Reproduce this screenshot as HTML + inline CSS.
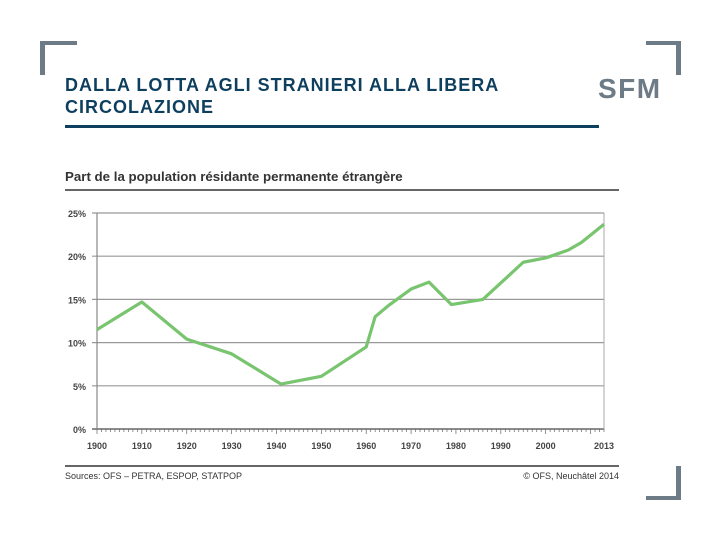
<!DOCTYPE html>
<html><head><meta charset="utf-8"><style>
body{margin:0;width:720px;height:540px;background:#fff;position:relative;overflow:hidden;font-family:"Liberation Sans",sans-serif}
.c{position:absolute;border-color:#6d7b86;border-style:solid;border-width:0}
</style></head><body>
<div class="c" style="left:40px;top:41px;width:32px;height:30px;border-left-width:5px;border-top-width:4px"></div>
<div class="c" style="left:646px;top:41px;width:30px;height:30px;border-right-width:5px;border-top-width:4px"></div>
<div class="c" style="left:646px;top:466px;width:30px;height:30px;border-right-width:5px;border-bottom-width:4px"></div>
<div style="position:absolute;left:65px;top:74px;font-size:18px;font-weight:bold;line-height:22px;color:#0f3f5e;letter-spacing:1px">DALLA LOTTA AGLI STRANIERI ALLA LIBERA<br>CIRCOLAZIONE</div>
<div style="position:absolute;left:65px;top:125px;width:534px;height:3px;background:#0f3f5e"></div>
<div style="position:absolute;left:598px;top:73px;font-size:28px;font-weight:bold;color:#6d7b86;letter-spacing:1.5px">SFM</div>
<svg width="720" height="540" style="position:absolute;left:0;top:0">
<text x="65" y="181" font-size="13.3" font-weight="bold" fill="#333">Part de la population résidante permanente étrangère</text>
<line x1="65" y1="190" x2="619" y2="190" stroke="#333" stroke-width="1.5"/>
<line x1="65" y1="466" x2="619" y2="466" stroke="#333" stroke-width="1.5"/>
<text x="65" y="479" font-size="9" fill="#333">Sources: OFS – PETRA, ESPOP, STATPOP</text>
<text x="619" y="479" font-size="9" fill="#333" text-anchor="end">© OFS, Neuchâtel 2014</text>
<g id="g"></g>
</svg>
<script>
const years=[1900,1910,1920,1930,1941,1950,1960,1962,1965,1970,1974,1979,1986,1990,1995,2000,2005,2008,2013];
const values=[11.5,14.7,10.4,8.7,5.2,6.1,9.5,13,14.3,16.2,17.0,14.4,15,16.9,19.3,19.8,20.7,21.6,23.7];
const yTicks=[0,5,10,15,20,25];
const xTicks=[1900,1910,1920,1930,1940,1950,1960,1970,1980,1990,2000,2013];
const X=y=>97+(y-1900)*(604-97)/113, Y=v=>429-v*(429-213)/25;
const g=document.getElementById('g'),NS='http://www.w3.org/2000/svg';
function mk(t,a){const e=document.createElementNS(NS,t);for(const k in a)e.setAttribute(k,a[k]);g.appendChild(e);return e;}
yTicks.forEach(v=>{
 const l=mk('line',{x1:92,x2:604,y1:Y(v),y2:Y(v),stroke:v?'#999':'#666','stroke-width':v?1.2:1.5});
 
 
 const t=mk('text',{x:86,y:Y(v)+4,'font-size':9,'font-weight':'bold',fill:'#444','text-anchor':'end'});t.textContent=v+'%';
 
 
});
const ax=mk('line',{x1:97,x2:97,y1:213,y2:429,stroke:'#888','stroke-width':1.2});


mk('line',{x1:604,x2:604,y1:213,y2:429,stroke:'#aaa','stroke-width':1});
for(let yr=1900;yr<=2013;yr++){const tk=mk('line',{x1:X(yr),x2:X(yr),y1:429,y2:yr%10?432:434,stroke:'#666','stroke-width':0.7});
 
 }
xTicks.forEach(yr=>{const t=mk('text',{x:X(yr),y:449,'font-size':9,'font-weight':'bold',fill:'#444','text-anchor':'middle'});t.textContent=yr;
 
 });
const p=mk('polyline',{points:years.map((y,i)=>X(y)+','+Y(values[i])).join(' '),fill:'none',stroke:'#79c46f','stroke-width':3.2,'stroke-linejoin':'round'});


</script>
</body></html>
